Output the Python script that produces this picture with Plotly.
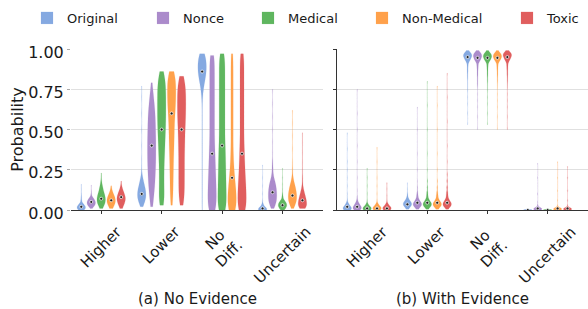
import numpy as np
import plotly.graph_objects as go

# ---------------- data ----------------
CATEGORIES = ["Higher", "Lower", "No<br>Diff.", "Uncertain"]
SERIES = ["Original", "Nonce", "Medical", "Non-Medical", "Toxic"]
PANEL_TITLES = ["(a) No Evidence", "(b) With Evidence"]
Y_TICKS = [0, 0.25, 0.5, 0.75, 1.0]
Y_TICK_LABELS = ["0.00", "0.25", "0.50", "0.75", "1.00"]

# Each violin is a list of probability levels and how many answers fall at each level,
# one inner list per category (Higher, Lower, No Diff., Uncertain).
# ---- (a) No Evidence ----
NE_ORIGINAL_LEVELS = [
    [0, 0.01, 0.02, 0.03, 0.04, 0.06, 0.08, 0.1, 0.13, 0.16],
    [0.02, 0.04, 0.06, 0.08, 0.1, 0.12, 0.14, 0.16, 0.18, 0.2, 0.23, 0.27, 0.32, 0.4, 0.5, 0.6, 0.7, 0.77],
    [0, 0.05, 0.1, 0.15, 0.2, 0.25, 0.3, 0.35, 0.4, 0.45, 0.5, 0.55, 0.6, 0.65, 0.7, 0.74, 0.78, 0.82, 0.86, 0.9, 0.94, 0.97],
    [0, 0.01, 0.02, 0.03, 0.04, 0.06, 0.1, 0.15, 0.2, 0.28],
]
NE_ORIGINAL_COUNTS = [
    [10, 14, 14, 10, 6, 3, 2, 1, 1, 1],
    [4, 8, 12, 14, 14, 13, 11, 8, 6, 4, 2, 1, 1, 1, 1, 1, 1, 1],
    [1, 1, 1, 1, 1, 1, 1, 1, 1, 1, 1, 1, 1, 1, 2, 4, 8, 14, 18, 18, 16, 8],
    [20, 14, 6, 3, 2, 1, 1, 1, 1, 1],
]
NE_NONCE_LEVELS = [
    [0.01, 0.02, 0.03, 0.04, 0.05, 0.06, 0.07, 0.08, 0.1, 0.12, 0.155],
    [0.02, 0.05, 0.1, 0.15, 0.2, 0.25, 0.3, 0.35, 0.4, 0.45, 0.5, 0.55, 0.6, 0.65, 0.7, 0.75, 0.79],
    [0, 0.05, 0.1, 0.15, 0.2, 0.25, 0.3, 0.35, 0.4, 0.45, 0.5, 0.55, 0.6, 0.65, 0.7, 0.75, 0.8, 0.85, 0.9, 0.95, 0.96],
    [0.01, 0.03, 0.05, 0.07, 0.09, 0.11, 0.13, 0.15, 0.17, 0.19, 0.22, 0.26, 0.3, 0.36, 0.42, 0.5, 0.58, 0.66, 0.75],
]
NE_NONCE_COUNTS = [
    [3, 8, 12, 14, 14, 12, 8, 5, 2, 1, 1],
    [2, 4, 7, 9, 10, 11, 12, 12, 12, 12, 11, 11, 10, 8, 6, 3, 1],
    [16, 16, 16, 15, 14, 13, 12, 11, 10, 9, 9, 9, 9, 9, 9, 9, 9, 9, 9, 7, 3],
    [4, 8, 11, 12, 12, 12, 11, 10, 8, 6, 4, 3, 2, 1, 1, 1, 1, 1, 1],
]
NE_MEDICAL_LEVELS = [
    [0.01, 0.03, 0.05, 0.07, 0.09, 0.11, 0.13, 0.15, 0.17, 0.2, 0.23],
    [0.03, 0.06, 0.1, 0.15, 0.2, 0.25, 0.3, 0.35, 0.4, 0.45, 0.5, 0.55, 0.6, 0.65, 0.7, 0.75, 0.8, 0.84, 0.86],
    [0, 0.05, 0.1, 0.15, 0.2, 0.25, 0.3, 0.35, 0.4, 0.45, 0.5, 0.55, 0.6, 0.65, 0.7, 0.75, 0.8, 0.85, 0.9, 0.95, 0.97],
    [0, 0.01, 0.02, 0.03, 0.04, 0.05, 0.06, 0.08, 0.1, 0.13, 0.16, 0.2, 0.26],
]
NE_MEDICAL_COUNTS = [
    [4, 10, 14, 14, 12, 8, 6, 4, 2, 1, 1],
    [5, 7, 8, 8, 8, 8, 9, 10, 11, 12, 13, 14, 14, 14, 14, 14, 12, 7, 2],
    [14, 14, 13, 13, 12, 12, 11, 11, 10, 9, 9, 9, 9, 9, 9, 9, 9, 9, 9, 8, 3],
    [6, 10, 13, 14, 13, 10, 7, 4, 2, 1, 1, 1, 1],
]
NE_NONMED_LEVELS = [
    [0.01, 0.02, 0.04, 0.06, 0.08, 0.1, 0.12, 0.15],
    [0.03, 0.06, 0.1, 0.15, 0.2, 0.25, 0.3, 0.35, 0.4, 0.45, 0.5, 0.55, 0.6, 0.65, 0.7, 0.75, 0.8, 0.84, 0.86],
    [0, 0.05, 0.1, 0.15, 0.2, 0.25, 0.3, 0.35, 0.4, 0.45, 0.5, 0.55, 0.6, 0.65, 0.7, 0.75, 0.8, 0.85, 0.9, 0.95, 0.97],
    [0.01, 0.03, 0.05, 0.07, 0.09, 0.11, 0.13, 0.15, 0.17, 0.2, 0.25, 0.3, 0.38, 0.46, 0.54, 0.62],
]
NE_NONMED_COUNTS = [
    [2, 6, 12, 14, 11, 6, 3, 1],
    [2, 3, 5, 6, 6, 7, 7, 8, 9, 10, 10, 11, 13, 15, 16, 16, 15, 10, 3],
    [20, 20, 19, 16, 12, 9, 7, 6, 5, 5, 5, 5, 5, 5, 5, 5, 5, 5, 5, 4, 2],
    [3, 8, 12, 13, 13, 12, 10, 8, 6, 4, 2, 1, 1, 1, 1, 1],
]
NE_TOXIC_LEVELS = [
    [0.01, 0.02, 0.04, 0.06, 0.08, 0.1, 0.12, 0.14, 0.18],
    [0.03, 0.06, 0.1, 0.15, 0.2, 0.25, 0.3, 0.35, 0.4, 0.45, 0.5, 0.55, 0.6, 0.65, 0.7, 0.75, 0.8, 0.83],
    [0, 0.05, 0.1, 0.15, 0.2, 0.25, 0.3, 0.35, 0.4, 0.45, 0.5, 0.55, 0.6, 0.65, 0.7, 0.75, 0.8, 0.85, 0.9, 0.95, 0.97],
    [0.01, 0.02, 0.03, 0.05, 0.07, 0.09, 0.11, 0.13, 0.16, 0.2, 0.25, 0.3, 0.36, 0.42, 0.48],
]
NE_TOXIC_COUNTS = [
    [2, 5, 10, 14, 14, 10, 6, 3, 1],
    [3, 6, 8, 9, 9, 9, 9, 9, 10, 10, 11, 12, 13, 13, 13, 13, 10, 3],
    [18, 18, 17, 16, 14, 12, 11, 10, 9, 8, 8, 8, 8, 8, 8, 8, 8, 8, 8, 7, 3],
    [5, 9, 12, 14, 12, 9, 6, 4, 2, 2, 1, 1, 1, 1, 1],
]
# ---- (b) With Evidence ----
WE_ORIGINAL_LEVELS = [
    [0, 0.01, 0.02, 0.03, 0.04, 0.05, 0.07, 0.1, 0.15, 0.2, 0.25, 0.3, 0.38, 0.48],
    [0.005, 0.015, 0.025, 0.035, 0.045, 0.055, 0.065, 0.08, 0.1, 0.13, 0.17],
    [0.53, 0.6, 0.66, 0.7, 0.74, 0.76, 0.78, 0.8, 0.82, 0.84, 0.86, 0.88, 0.9, 0.92, 0.93, 0.94, 0.95, 0.96, 0.97, 0.98, 0.99],
    [0, 0.002, 0.004],
]
WE_ORIGINAL_COUNTS = [
    [14, 16, 12, 7, 4, 2, 1, 1, 1, 1, 1, 1, 1, 1],
    [3, 8, 13, 16, 14, 10, 6, 4, 2, 1, 1],
    [1, 1, 1, 1, 1, 1, 1, 1, 2, 2, 3, 3, 4, 6, 8, 11, 14, 16, 14, 9, 4],
    [10, 5, 2],
]
WE_NONCE_LEVELS = [
    [0, 0.01, 0.02, 0.03, 0.04, 0.05, 0.06, 0.08, 0.12, 0.2, 0.3, 0.4, 0.5, 0.6, 0.75],
    [0.005, 0.015, 0.025, 0.035, 0.045, 0.055, 0.07, 0.09, 0.11, 0.14, 0.18, 0.25, 0.35, 0.5, 0.64],
    [0.5, 0.58, 0.64, 0.68, 0.72, 0.76, 0.78, 0.8, 0.82, 0.84, 0.86, 0.88, 0.9, 0.92, 0.93, 0.94, 0.95, 0.96, 0.97, 0.98, 0.99],
    [0, 0.005, 0.01, 0.015, 0.02, 0.03, 0.05, 0.1, 0.2, 0.29],
]
WE_NONCE_COUNTS = [
    [12, 16, 14, 10, 6, 4, 2, 2, 1, 1, 1, 1, 1, 1, 1],
    [3, 9, 14, 16, 14, 11, 8, 5, 3, 2, 1, 1, 1, 1, 1],
    [1, 1, 1, 1, 1, 1, 2, 2, 2, 3, 3, 4, 5, 7, 9, 12, 14, 15, 13, 9, 4],
    [8, 12, 10, 6, 3, 2, 1, 1, 1, 1],
]
WE_MEDICAL_LEVELS = [
    [0, 0.01, 0.02, 0.03, 0.04, 0.06, 0.1, 0.15, 0.2, 0.26],
    [0.005, 0.015, 0.025, 0.035, 0.045, 0.055, 0.07, 0.09, 0.11, 0.14, 0.18, 0.25, 0.35, 0.5, 0.65, 0.8],
    [0.53, 0.6, 0.66, 0.7, 0.74, 0.76, 0.78, 0.8, 0.82, 0.84, 0.86, 0.88, 0.9, 0.92, 0.93, 0.94, 0.95, 0.96, 0.97, 0.98, 0.99],
    [0, 0.002, 0.004, 0.01],
]
WE_MEDICAL_COUNTS = [
    [14, 16, 10, 5, 2, 1, 1, 1, 1, 1],
    [3, 9, 14, 16, 14, 11, 8, 5, 4, 3, 2, 1, 1, 1, 1, 1],
    [1, 1, 1, 1, 1, 1, 1, 2, 2, 3, 3, 4, 5, 7, 10, 13, 16, 16, 13, 8, 3],
    [10, 4, 2, 1],
]
WE_NONMED_LEVELS = [
    [0, 0.01, 0.02, 0.03, 0.04, 0.06, 0.1, 0.15, 0.2, 0.3, 0.39],
    [0.005, 0.015, 0.025, 0.035, 0.045, 0.055, 0.07, 0.09, 0.11, 0.14, 0.18, 0.25, 0.35, 0.5, 0.65, 0.77],
    [0.5, 0.58, 0.64, 0.68, 0.72, 0.76, 0.78, 0.8, 0.82, 0.84, 0.86, 0.88, 0.9, 0.92, 0.93, 0.94, 0.95, 0.96, 0.97, 0.98, 0.99],
    [0, 0.005, 0.01, 0.015, 0.02, 0.03, 0.06, 0.12, 0.2, 0.3],
]
WE_NONMED_COUNTS = [
    [14, 16, 12, 6, 3, 1, 1, 1, 1, 1, 1],
    [3, 9, 14, 16, 14, 11, 8, 6, 4, 3, 2, 1, 1, 1, 1, 1],
    [1, 1, 1, 1, 1, 1, 1, 2, 2, 3, 3, 4, 5, 7, 10, 13, 16, 16, 13, 8, 3],
    [8, 12, 10, 5, 2, 1, 1, 1, 1, 1],
]
WE_TOXIC_LEVELS = [
    [0, 0.01, 0.02, 0.03, 0.04, 0.06, 0.09, 0.13, 0.17],
    [0.005, 0.015, 0.025, 0.035, 0.045, 0.055, 0.07, 0.09, 0.11, 0.14, 0.18, 0.22, 0.3, 0.4, 0.55, 0.7, 0.85],
    [0.5, 0.58, 0.64, 0.68, 0.72, 0.76, 0.78, 0.8, 0.82, 0.84, 0.86, 0.88, 0.9, 0.92, 0.93, 0.94, 0.95, 0.96, 0.97, 0.98, 0.99],
    [0, 0.005, 0.01, 0.015, 0.02, 0.03, 0.06, 0.12, 0.2, 0.27],
]
WE_TOXIC_COUNTS = [
    [14, 16, 12, 6, 3, 1, 1, 1, 1],
    [3, 9, 14, 16, 14, 12, 9, 6, 5, 4, 3, 2, 1, 1, 1, 1, 1],
    [1, 1, 1, 1, 1, 1, 1, 2, 2, 3, 3, 4, 5, 6, 8, 11, 14, 16, 16, 11, 5],
    [8, 12, 10, 5, 2, 1, 1, 1, 1, 1],
]

PANEL_DATA = [
    [(NE_ORIGINAL_LEVELS, NE_ORIGINAL_COUNTS), (NE_NONCE_LEVELS, NE_NONCE_COUNTS),
     (NE_MEDICAL_LEVELS, NE_MEDICAL_COUNTS), (NE_NONMED_LEVELS, NE_NONMED_COUNTS),
     (NE_TOXIC_LEVELS, NE_TOXIC_COUNTS)],
    [(WE_ORIGINAL_LEVELS, WE_ORIGINAL_COUNTS), (WE_NONCE_LEVELS, WE_NONCE_COUNTS),
     (WE_MEDICAL_LEVELS, WE_MEDICAL_COUNTS), (WE_NONMED_LEVELS, WE_NONMED_COUNTS),
     (WE_TOXIC_LEVELS, WE_TOXIC_COUNTS)],
]

# ---------------- style ----------------
COLORS = ["#85a9e1", "#ab8bcb", "#5fb65f", "#ffa14b", "#e05e5e"]
EDGE = ["rgba(133,169,225,0.25)", "rgba(171,139,203,0.25)", "rgba(95,182,95,0.25)",
        "rgba(255,161,75,0.25)", "rgba(224,94,94,0.25)"]
FONT = "DejaVu Sans"
TEXT = "#1a1a1a"
HUE_STEP = 0.165
VIOLIN_WIDTH = 0.14
W, H = 588, 309
ML, MT, MB = 71, 49, 99
PLOT_W = W - ML
PLOT_H = H - MT - MB
LEGEND_TEXT_X = [69, 185, 290, 404, 549]

fig = go.Figure()
axis_ids = [("x", "y"), ("x2", "y2")]

for p, panel in enumerate(PANEL_DATA):
    xa, ya = axis_ids[p]
    med_x, med_y = [], []
    for h, (levels_list, counts_list) in enumerate(panel):
        for c in range(len(CATEGORIES)):
            lv = np.array(levels_list[c], dtype=float)
            ct = np.array(counts_list[c], dtype=int)
            samples = np.repeat(lv, ct)
            bw = 1.0 * float(np.percentile(np.diff(lv), 25))
            pos = c + (h - 2) * HUE_STEP
            show = (p == 0 and c == 0)
            fig.add_trace(go.Violin(
                x=[pos] * len(samples), y=samples,
                xaxis=xa, yaxis=ya,
                name=SERIES[h], legendgroup=SERIES[h],
                legend="legend" if h == 0 else f"legend{h + 1}",
                showlegend=show,
                fillcolor=COLORS[h],
                line=dict(color=EDGE[h], width=0.6),
                width=VIOLIN_WIDTH, scalemode="width",
                spanmode="hard", bandwidth=bw,
                points=False, box_visible=False, meanline_visible=False,
                hoverinfo="skip",
            ))
            med_x.append(pos)
            med_y.append(float(np.median(samples)))
    fig.add_trace(go.Scatter(
        x=med_x, y=med_y, xaxis=xa, yaxis=ya, mode="markers",
        marker=dict(size=3, color="#222222", line=dict(color="rgba(255,255,255,0.85)", width=0.8)),
        showlegend=False, hoverinfo="skip",
    ))

# layout
d1 = (323 - ML) / PLOT_W
d2 = (337 - ML) / PLOT_W
common_x = dict(range=[-0.5, 3.67], type="linear", showgrid=False, zeroline=False,
                showline=True, linecolor="#333333", linewidth=1.4,
                ticks="outside", ticklen=3, tickwidth=1, tickcolor="#333333",
                tickvals=list(range(len(CATEGORIES))), showticklabels=False)
common_y = dict(range=[0, 1], tickvals=Y_TICKS, showgrid=True, gridcolor="#e0e0e0",
                gridwidth=1, zeroline=False)

layout = dict(
    width=W, height=H,
    margin=dict(l=ML, r=0, t=MT, b=MB),
    paper_bgcolor="white", plot_bgcolor="white",
    font=dict(family=FONT, size=15, color=TEXT),
    xaxis=dict(domain=[0, d1], anchor="y", **common_x),
    xaxis2=dict(domain=[d2, 1], anchor="y2", **common_x),
    yaxis=dict(anchor="x", ticktext=Y_TICK_LABELS, ticks="outside", ticklen=3,
               tickcolor="#aaaaaa", showline=False, ticklabelshift=3,
               tickfont=dict(size=16, family=FONT, color=TEXT),
               title=dict(text="Probability", standoff=0,
                          font=dict(size=16, family=FONT, color=TEXT)),
               **common_y),
    yaxis2=dict(anchor="x2", matches="y", showticklabels=False, ticks="outside",
                ticklen=3, tickcolor="#333333", showline=True, linecolor="#333333",
                linewidth=1.4, **common_y),
)
for h in range(len(SERIES)):
    key = "legend" if h == 0 else f"legend{h + 1}"
    layout[key] = dict(
        x=(LEGEND_TEXT_X[h] - 42 - ML) / PLOT_W, xanchor="left",
        y=(PLOT_H + MT - 18) / PLOT_H, yanchor="middle",
        orientation="h", bgcolor="rgba(0,0,0,0)", borderwidth=0,
        font=dict(size=13, family=FONT, color=TEXT),
    )
fig.update_layout(**layout)

annotations = []
for p, (xa, _) in enumerate(axis_ids):
    for c, cat in enumerate(CATEGORIES):
        annotations.append(dict(
            x=c, xref=xa, y=-10 / PLOT_H, yref="paper", text=cat,
            textangle=-45, xanchor="center", yanchor="top", showarrow=False,
            font=dict(size=15, family=FONT, color=TEXT),
        ))
centers = [(0 + d1) / 2, (d2 + 1) / 2]
for p, t in enumerate(PANEL_TITLES):
    annotations.append(dict(
        x=centers[p], xref="paper", y=(PLOT_H + MT - 299) / PLOT_H, yref="paper",
        text=t, xanchor="center", yanchor="middle", showarrow=False,
        font=dict(size=15, family=FONT, color=TEXT),
    ))
fig.update_layout(annotations=annotations)

fig.write_html("out.html", config={"displayModeBar": False},
               post_script="document.body.style.margin='0px';")
